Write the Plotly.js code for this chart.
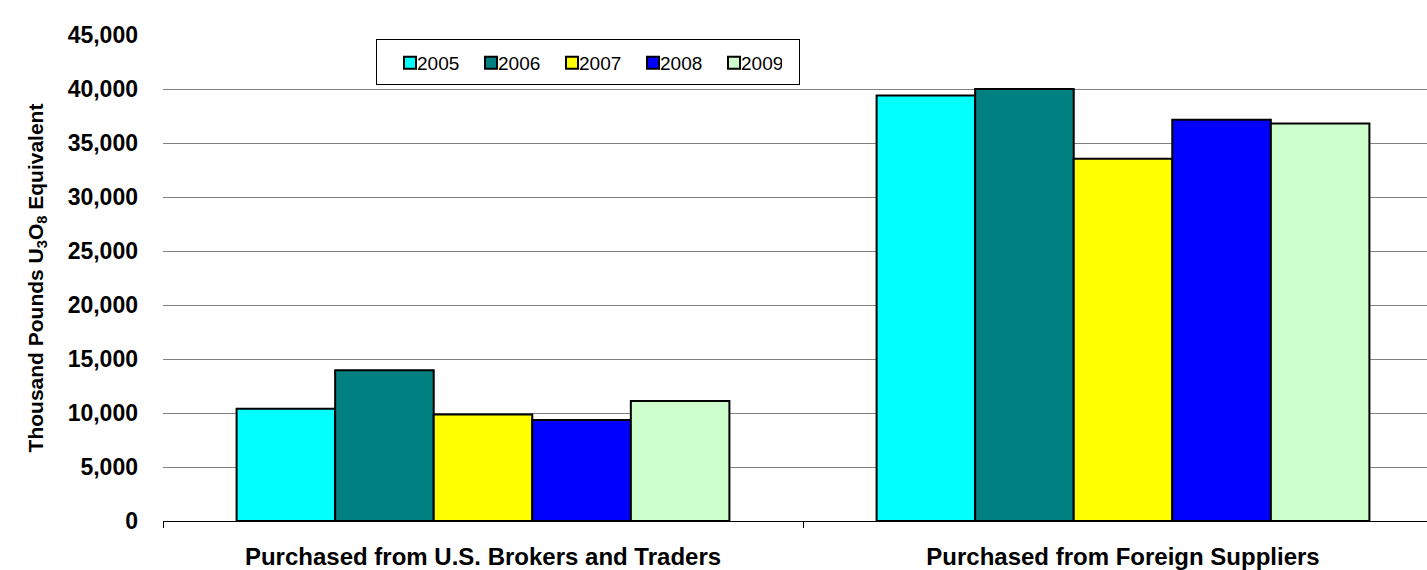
<!DOCTYPE html>
<html>
<head>
<meta charset="utf-8">
<script src="https://cdn.plot.ly/plotly-3.0.1.min.js"></script>
<style>
  html, body { margin: 0; padding: 0; background: #fff; overflow: hidden; }
  #graph { width: 1443px; height: 570px; }
</style>
</head>
<body>
<div id="graph"></div>
<script>
// categories and values (thousand pounds U3O8 equivalent)
const categories = ['Purchased from U.S. Brokers and Traders', 'Purchased from Foreign Suppliers'];
const years = ['2005', '2006', '2007', '2008', '2009'];
const v2005 = [10400, 39400];
const v2006 = [13950, 40000];
const v2007 = [9850, 33550];
const v2008 = [9350, 37150];
const v2009 = [11100, 36800];
const colors = ['#00FFFF', '#008080', '#FFFF00', '#0000FF', '#CCFFCC'];

const series = [v2005, v2006, v2007, v2008, v2009];
const FONT = 'Liberation Sans, Arial, sans-serif';

const traces = series.map((vals, i) => ({
  type: 'bar',
  name: years[i],
  x: categories,
  y: vals,
  marker: { color: colors[i], line: { color: '#000', width: 2 } }
}));

// the original plot area runs a little past the right edge of the picture
const layout = {
  width: 1443,
  height: 570,
  margin: { l: 163, r: 0, t: 35, b: 49 },
  paper_bgcolor: '#fff',
  plot_bgcolor: '#fff',
  font: { family: FONT, color: '#000' },
  barmode: 'group',
  bargap: 0.23,
  bargroupgap: 0,
  xaxis: {
    type: 'category',
    tickson: 'boundaries',
    ticks: 'outside',
    ticklen: 6,
    tickcolor: '#000',
    showline: true,
    linecolor: '#000',
    linewidth: 1,
    showgrid: false,
    tickfont: { size: 24, family: FONT, weight: 'bold' },
    ticklabelstandoff: 14
  },
  yaxis: {
    range: [0, 45000],
    dtick: 5000,
    tickformat: ',d',
    showgrid: true,
    gridcolor: '#808080',
    gridwidth: 1,
    zeroline: false,
    showline: false,
    ticks: '',
    tickfont: { size: 23, family: FONT, weight: 'bold' },
    ticklabelstandoff: 24,
    title: {
      text: 'Thousand Pounds U<sub>3</sub>O<sub>8</sub> Equivalent',
      font: { size: 21, family: FONT, weight: 'bold' },
      standoff: 18
    }
  },
  showlegend: true,
  legend: {
    orientation: 'h',
    x: (376 - 163) / 1280,
    xanchor: 'left',
    y: (521 - 39) / 486,
    yanchor: 'top',
    bgcolor: '#fff',
    bordercolor: '#000',
    borderwidth: 1,
    font: { size: 19, family: FONT },
    entrywidth: 36,
    entrywidthmode: 'pixels',
    traceorder: 'normal'
  }
};

Plotly.newPlot('graph', traces, layout, { displayModeBar: false, staticPlot: true }).then(gd => {
  // legend like the original: swatch right against the label, taller box
  const leg = gd.querySelector('.legend');
  if (!leg) return;
  leg.querySelectorAll('.legendpoints').forEach(p => {
    const t = p.getAttribute('transform') || '';
    p.setAttribute('transform', t + ' translate(13,0)');
  });
  const bg = leg.querySelector('rect.bg');
  if (bg) {
    bg.setAttribute('width', 423);
    bg.setAttribute('height', 45);
  }
  const box = leg.querySelector('.scrollbox');
  if (box) {
    const t = box.getAttribute('transform') || '';
    box.setAttribute('transform', t + ' translate(0,4)');
  }
  leg.querySelectorAll('clipPath rect, .legendclip rect').forEach(r => {
    r.setAttribute('height', 45);
    r.setAttribute('width', 423);
  });
});
</script>
</body>
</html>
